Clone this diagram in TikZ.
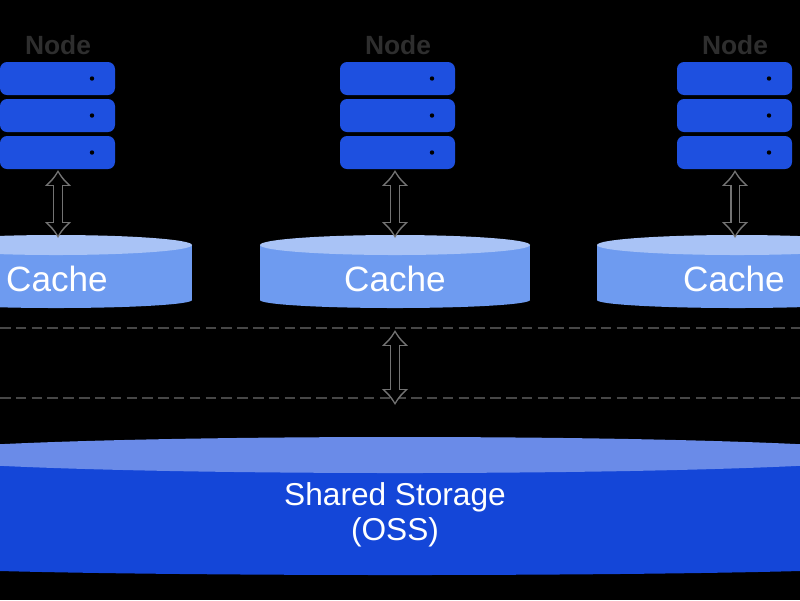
\documentclass[tikz,border=0pt]{standalone}
\usepackage{fontspec}
\setmainfont{Liberation Sans}
\usetikzlibrary{arrows.meta}
\definecolor{srvblue}{HTML}{1E50E0}
\definecolor{ctop}{HTML}{A9C3F6}
\definecolor{cbody}{HTML}{6E9BF0}
\definecolor{stop}{HTML}{6A8BE8}
\definecolor{sbody}{HTML}{1446D8}
\begin{document}
\begin{tikzpicture}[x=0.02cm,y=-0.02cm,
  srv/.style={fill=srvblue,rounded corners=4pt},
  lbl/.style={text=black!82,font=\bfseries\fontsize{15}{15}\selectfont},
  dashln/.style={black!72,line width=1.5pt,dash pattern=on 6pt off 3pt},
  arr/.style={line width=6pt,black!55,{Latex[length=9pt,width=16pt]}-{Latex[length=9pt,width=16pt]}},
  arrin/.style={line width=4pt,black,{Latex[length=7pt,width=12pt]}-{Latex[length=7pt,width=12pt]},shorten <=1.5pt,shorten >=1.5pt}]
\fill[black] (0,0) rectangle (800,600);
\useasboundingbox (0,0) rectangle (800,600);
% dashed lines
\draw[dashln] (0,328) coordinate (dl1) -- (800,328) coordinate (dr1);
\draw[dashln] (0,398) coordinate (dl2) -- (800,398) coordinate (dr2);
% servers
\foreach \n/\x in {A/0,B/340,C/677}{
  \node[lbl] (lab\n) at (\x+58,45) {Node};
  \foreach \y in {62,99,136}{
    \fill[srv] (\x,\y) rectangle (\x+115,\y+33);
    \fill[black] (\x+92,\y+16.5) circle (2.2);
  }
}
% caches
\foreach \n/\l/\r in {A/-80/192,B/260/530,C/597/877}{
  \fill[cbody] (\l,245) rectangle (\r,300);
  \fill[cbody] ({(\l+\r)/2},300) ellipse ({(\r-\l)/2} and 8);
  \fill[ctop] ({(\l+\r)/2},245) ellipse ({(\r-\l)/2} and 10);
}
\node[text=white,font=\fontsize{20}{20}\selectfont] (cA) at (57,279) {Cache};
\node[text=white,font=\fontsize{20}{20}\selectfont] (cB) at (395,279) {Cache};
\node[text=white,font=\fontsize{20}{20}\selectfont] (cC) at (734,279) {Cache};
% arrows
\coordinate (aA1) at (58,170); \coordinate (aA2) at (58,238);
\coordinate (aB1) at (395,170); \coordinate (aB2) at (395,238);
\coordinate (aC1) at (735,170); \coordinate (aC2) at (735,238);
\coordinate (m1) at (395,330); \coordinate (m2) at (395,405);
\foreach \a/\b in {aA1/aA2,aB1/aB2,aC1/aC2,m1/m2}{
  \draw[arr] (\a) -- (\b);
  \draw[arrin] (\a) -- (\b);
}
% shared storage
\fill[sbody] (-100,455) rectangle (900,565);
\fill[sbody] (400,565) ellipse (500 and 10);
\fill[stop] (400,455) ellipse (500 and 18);
\node[text=white,font=\fontsize{18}{18}\selectfont,align=center] (ss) at (395,515) {Shared Storage\\[2pt](OSS)};
\end{tikzpicture}
\end{document}
